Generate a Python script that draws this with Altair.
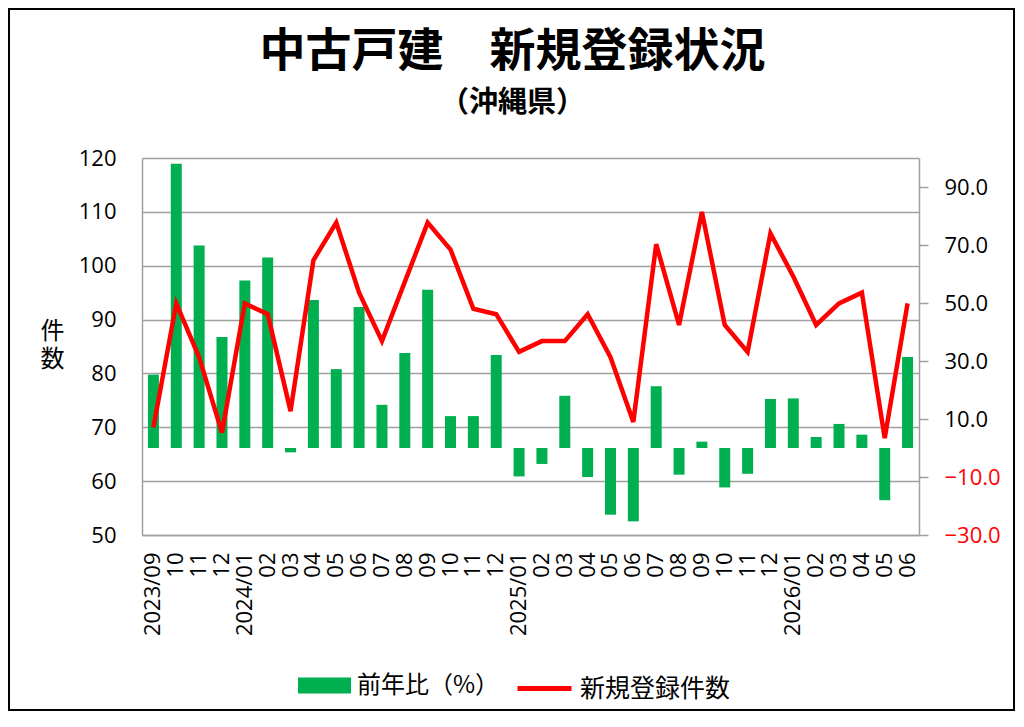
import altair as alt
import pandas as pd

# ---- data ----
months = [
    "2023/09", "2023/10", "2023/11", "2023/12",
    "2024/01", "2024/02", "2024/03", "2024/04", "2024/05", "2024/06",
    "2024/07", "2024/08", "2024/09", "2024/10", "2024/11", "2024/12",
    "2025/01", "2025/02", "2025/03", "2025/04", "2025/05", "2025/06",
    "2025/07", "2025/08", "2025/09", "2025/10", "2025/11", "2025/12",
    "2026/01", "2026/02", "2026/03", "2026/04", "2026/05", "2026/06",
]
counts = [
    70, 93, 83, 69,
    93, 91, 73, 101, 108, 95, 86, 97, 108, 103, 92, 91,
    84, 86, 86, 91, 83, 71, 104, 89, 110, 89, 84, 106,
    98, 89, 93, 95, 68, 93,
]
yoy = [
    25.3, 98.0, 69.8, 38.3,
    57.8, 65.7, -1.5, 51.0, 27.2, 48.6, 14.9, 32.8, 54.6, 11.0, 11.0, 32.1,
    -9.8, -5.5, 18.0, -10.0, -23.0, -25.3, 21.3, -9.2, 2.2, -13.6, -8.9, 16.9,
    17.1, 3.8, 8.3, 4.6, -18.0, 31.4,
]
left_ticks = [50, 60, 70, 80, 90, 100, 110, 120]
right_ticks = [-30, -10, 10, 30, 50, 70, 90]
bar_name = "前年比（%）"
line_name = "新規登録件数"

df = pd.DataFrame({"month": months, "count": counts, "yoy": yoy})

GREEN = "#00B050"
RED = "#FF0000"
GRID = "#A0A0A0"
JP = "Noto Sans CJK JP"
NUM = "Open Sans"

W, H = 777, 377
PAD = {"left": 134, "top": 150, "right": 96, "bottom": 176}

label_expr = ("datum.value == '2023/09' || slice(datum.value, 5) == '01' "
              "? datum.value : slice(datum.value, 5)")

x_enc = alt.X(
    "month:N", sort=None, title=None,
    scale=alt.Scale(paddingInner=0, paddingOuter=0),
    axis=alt.Axis(labelAngle=-90, labelExpr=label_expr, ticks=False,
                  labelPadding=17, labelFont=NUM, labelFontSize=22,
                  labelColor="black", domainColor=GRID, domainWidth=1.5),
)

bars = alt.Chart(df).transform_calculate(series=f"'{bar_name}'").mark_bar(size=11).encode(
    x=x_enc,
    y=alt.Y(
        "yoy:Q",
        scale=alt.Scale(domain=[-30, 100], nice=False, zero=False),
        axis=alt.Axis(orient="right", values=right_ticks, format=".1f", grid=False,
                      tickSize=9, tickColor=GRID, tickWidth=1.5, labelPadding=16,
                      labelFont=NUM, labelFontSize=22,
                      labelColor={"condition": {"test": "datum.value < 0", "value": RED},
                                  "value": "black"},
                      domainColor=GRID, domainWidth=1.5, title=None),
    ),
    color=alt.Color(
        "series:N",
        scale=alt.Scale(domain=[bar_name], range=[GREEN]),
        legend=alt.Legend(title=None, orient="none", legendX=156, legendY=501,
                          symbolType="M-1,-0.3H1V0.3H-1Z", symbolSize=2809,
                          symbolStrokeWidth=0, labelFont=JP, labelFontSize=24,
                          labelColor="black", labelOffset=6),
    ),
)

line = alt.Chart(df).transform_calculate(series=f"'{line_name}'").mark_line(strokeWidth=4.5).encode(
    x=x_enc,
    y=alt.Y(
        "count:Q",
        scale=alt.Scale(domain=[50, 120], nice=False, zero=False),
        axis=alt.Axis(orient="left", values=left_ticks, grid=True, gridColor=GRID,
                      gridWidth=1.5, ticks=False, labelPadding=26, labelFont=NUM,
                      labelFontSize=22, labelColor="black", domainColor=GRID,
                      domainWidth=1.5, title=["件", "数"], titleAngle=0,
                      titleX=-90, titleY=161, titleAlign="center",
                      titleBaseline="top", titleFont=JP, titleFontSize=24,
                      titleFontWeight="normal", titleColor="black",
                      titleLineHeight=28),
    ),
    color=alt.Color(
        "series:N",
        scale=alt.Scale(domain=[line_name], range=[RED]),
        legend=alt.Legend(title=None, orient="none", legendX=373, legendY=501,
                          symbolType="stroke", symbolSize=2916,
                          symbolStrokeWidth=5, labelFont=JP, labelFontSize=25,
                          labelColor="black", labelOffset=6),
    ),
)

frame = alt.Chart(pd.DataFrame({"k": [0]})).mark_rect(
    fillOpacity=0, stroke="black", strokeWidth=2
).encode(
    x=alt.value(-PAD["left"] + 1), x2=alt.value(W + PAD["right"] - 1),
    y=alt.value(-PAD["top"] + 1), y2=alt.value(H + PAD["bottom"] - 1),
)

chart = alt.layer(bars, line, frame).resolve_scale(
    y="independent", color="independent"
).properties(
    width=W, height=H,
    padding=PAD,
    autosize=alt.AutoSizeParams(type="none"),
    background="white",
    title=alt.TitleParams(
        text="中古戸建　新規登録状況", subtitle="（沖縄県）",
        font=JP, fontSize=46, fontWeight="bold", color="black",
        subtitleFont=JP, subtitleFontSize=29, subtitleFontWeight="bold",
        subtitleColor="black", subtitlePadding=13, anchor="middle",
        frame="group", dx=-18, offset=0, dy=111,
    ),
).configure_view(stroke=None)

chart.save("out.html", embed_options={"renderer": "svg", "actions": False})
